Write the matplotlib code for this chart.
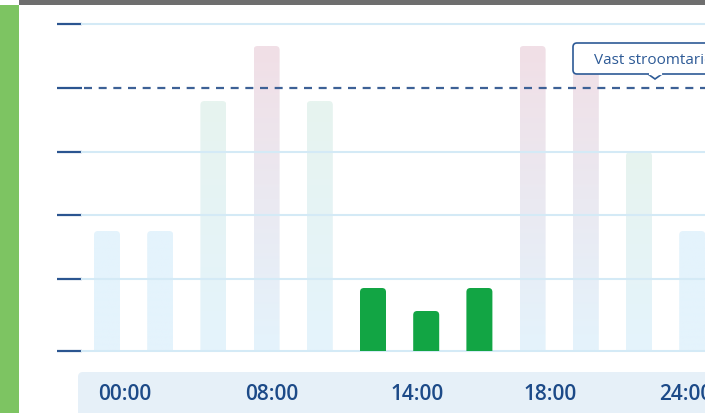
import numpy as np
import matplotlib
matplotlib.use("Agg")
import matplotlib.pyplot as plt
from matplotlib.patches import FancyBboxPatch, Rectangle, Polygon
from matplotlib.colors import to_rgb

# ---- data ----
hours = list(range(12))
bar_values = [120, 120, 250, 305, 250, 63, 40, 63, 305, 305, 199, 120]
bar_kind = ["low", "low", "mid", "high", "mid", "green", "green", "green", "high", "high", "mid", "low"]
grid_levels = [0, 72, 136, 199, 263, 327]
tariff_level = 263
tariff_label = "Vast stroomtarief"
time_labels = ["00:00", "08:00", "14:00", "18:00", "24:00"]
time_label_px = [125, 272, 417, 550, 686]

W, H = 705, 414
fig = plt.figure(figsize=(W / 100, H / 100), dpi=100)
fig.patch.set_facecolor("white")

# decorations: green strip left, gray strip top
fig.patches.append(Rectangle((0, 0), 19 / W, 408 / H, transform=fig.transFigure,
                             facecolor="#7dc462", edgecolor="none", zorder=0))
fig.patches.append(Rectangle((19 / W, 408 / H), 1, 6 / H, transform=fig.transFigure,
                             facecolor="#6e6e6e", edgecolor="none", zorder=0))

# main axes: left px 82, right 705, baseline px 352, top px 10
px_per_unit = 53.2
x_left = (82 - 107) / px_per_unit
x_right = (705 - 107) / px_per_unit
ax = fig.add_axes([82 / W, (H - 352) / H, (705 - 82) / W, (352 - 10) / H])
ax.set_xlim(x_left, x_right)
ax.set_ylim(0, 342)
for s in ax.spines.values():
    s.set_visible(False)
ax.set_xticks([])
ax.set_yticks(grid_levels)
ax.set_yticklabels([])
ax.tick_params(axis="y", length=18, width=1.6, color="#2b5590", direction="out")
ax.patch.set_alpha(0)

bw = 26 / px_per_unit
blue = np.array(to_rgb("#e4f3fc"))
tops = {"low": np.array(to_rgb("#e4f3fc")),
        "mid": np.array(to_rgb("#e7f4ef")),
        "high": np.array(to_rgb("#f1dfe6"))}

for h, v, k in zip(hours, bar_values, bar_kind):
    x0 = h - bw / 2
    patch = FancyBboxPatch((x0, -20), bw, v + 20,
                           boxstyle="round,pad=0,rounding_size=%f" % (4 / px_per_unit),
                           mutation_aspect=px_per_unit,
                           facecolor="#12a544" if k == "green" else "none",
                           edgecolor="none", zorder=3 if k == "green" else 1)
    ax.add_patch(patch)
    if k != "green":
        n = 64
        t = np.linspace(0, 1, n)[:, None]  # 0 bottom, 1 top
        col = blue[None, :] * (1 - t) + tops[k][None, :] * t
        img = col[:, None, :]
        im = ax.imshow(img, extent=[x0, x0 + bw, 0, v], origin="lower",
                       aspect="auto", interpolation="bilinear", zorder=1)
        im.set_clip_path(patch)

ax.set_xlim(x_left, x_right)
ax.set_ylim(0, 342)

# grid lines
for g in grid_levels:
    if g == tariff_level:
        continue
    ax.axhline(g, color="#d4eaf6", lw=1.5, zorder=2, clip_on=False)

# tariff dashed line
ax.plot([x_left + 2 / px_per_unit, x_right], [tariff_level, tariff_level],
        color="#3d6196", lw=1.6, dashes=(3.6, 3.0), zorder=4, clip_on=False)

# overlay axes in pixel coords for band, labels, callout
ov = fig.add_axes([0, 0, 1, 1])
ov.set_xlim(0, W)
ov.set_ylim(H, 0)
ov.axis("off")

band = FancyBboxPatch((78, 373), 700, 60, boxstyle="round,pad=0,rounding_size=5",
                      facecolor="#e6f0f8", edgecolor="none")
ov.add_patch(band)
for lab, xp in zip(time_labels, time_label_px):
    ov.text(xp, 395, lab, ha="center", va="center", fontsize=15,
            fontweight="semibold", color="#1c4a88", family="Open Sans")

# callout
tip_y = 352 - tariff_level - 9
box = FancyBboxPatch((573, 44), 200, 31, boxstyle="round,pad=0,rounding_size=4",
                     facecolor="white", edgecolor="#2d5a96", lw=1.2, zorder=5)
ov.add_patch(box)
tri = Polygon([[648, 75], [655, tip_y], [662, 75]], closed=False,
              facecolor="white", edgecolor="#2d5a96", lw=1.2, zorder=6)
ov.add_patch(tri)
ov.plot([649.5, 660.5], [75, 75], color="white", lw=1.6, zorder=7)
ov.text(594, 60, tariff_label, ha="left", va="center", fontsize=11,
        color="#2d5a96", family="Open Sans", zorder=8)

fig.savefig("out.png", dpi=100)
